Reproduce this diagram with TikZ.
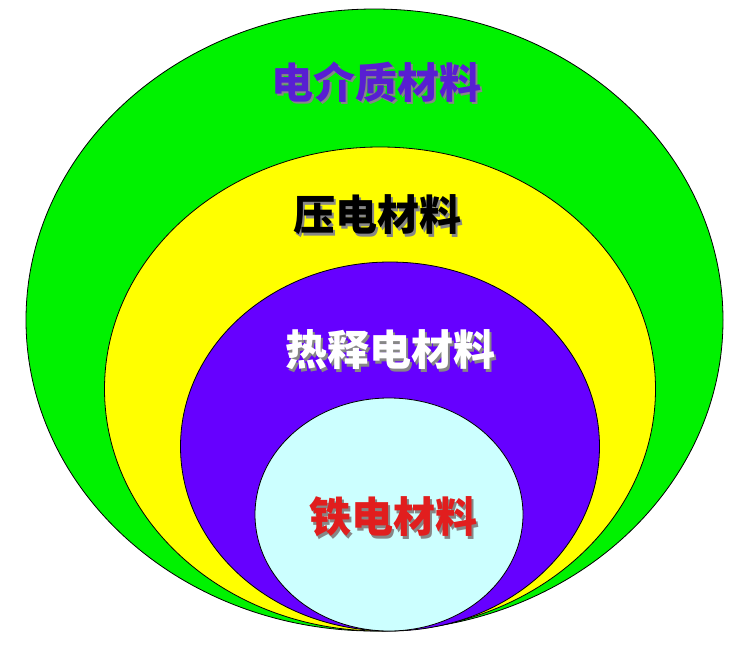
\documentclass[tikz,border=0pt]{standalone}
\usepackage{fontspec}
\newfontfamily\cjk{Noto Sans CJK SC}
\definecolor{dielgreen}{RGB}{0,242,0}
\definecolor{piezoyellow}{RGB}{255,255,0}
\definecolor{pyroviolet}{RGB}{102,0,255}
\definecolor{ferrocyan}{RGB}{204,255,255}
\definecolor{titleblue}{RGB}{88,30,210}
\definecolor{ferrored}{RGB}{225,30,30}
\definecolor{shadowgray}{RGB}{135,135,135}
\newcommand{\withshadow}[1]{\rlap{\kern2.5pt\raisebox{-2.5pt}{\textcolor{shadowgray}{#1}}}#1}

\begin{document}
\begin{tikzpicture}[x=1pt, y=-1pt, line join = round,
    ring/.style={draw=black, line width=0.8pt},
    matname/.style={font=\cjk\bfseries\fontsize{42}{42}\selectfont, inner sep=0pt}]
    \useasboundingbox (0,0) rectangle (750,651);

    \coordinate (G) at (374.5,320);
    \coordinate (Y) at (380,389);
    \coordinate (P) at (390,446.5);
    \coordinate (C) at (389,514.5);

    \draw[ring, fill=dielgreen] (G) ellipse [x radius=348.5pt, y radius=311pt];
    \draw[ring, fill=piezoyellow] (Y) ellipse [x radius=275.5pt, y radius=242pt];
    \draw[ring, fill=pyroviolet] (P) ellipse [x radius=209.5pt, y radius=184.5pt];
    \draw[ring, fill=ferrocyan] (C) ellipse [x radius=134pt, y radius=116.5pt];

    %\draw[dashed] (G)--(C);
    \node[matname, text=titleblue] (diel) at (376,83) {\withshadow{电介质材料}};
    \node[matname, text=black] (piezo) at (377,216) {\withshadow{压电材料}};
    \node[matname, text=white] (pyro) at (390,351) {\withshadow{热释电材料}};
    \node[matname, text=ferrored] (ferro) at (393,518) {\withshadow{铁电材料}};
\end{tikzpicture}
\end{document}
